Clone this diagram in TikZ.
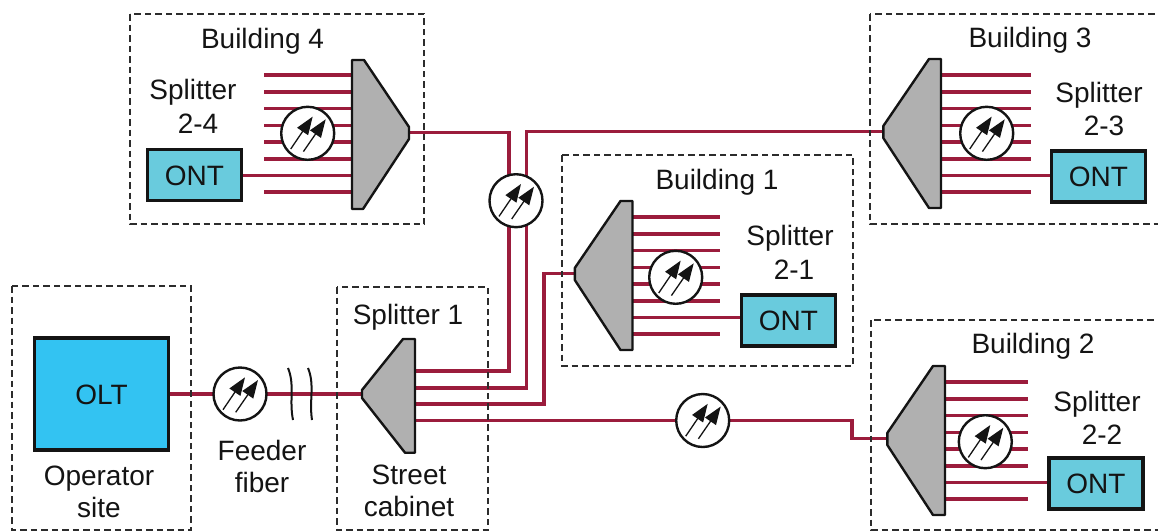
\documentclass[tikz,border=0pt]{standalone}
\usepackage{fontspec}
\setmainfont{Liberation Sans}
\usetikzlibrary{arrows.meta}
\pgfdeclarelayer{wires}
\pgfsetlayers{wires,main}
\definecolor{fiberred}{HTML}{9B1C3C}
\definecolor{ontblue}{HTML}{69CBDD}
\definecolor{oltblue}{HTML}{33C3F2}
\definecolor{splitgray}{HTML}{B0B0B0}
\definecolor{inkdark}{HTML}{141414}
\tikzset{
  x=1pt,y=-1pt,
  fiber/.style={draw=fiberred,line width=3.4pt},
  zone/.style={draw=inkdark!90,line width=2.2pt,dash pattern=on 6.5pt off 4pt},
  body/.style={draw=inkdark,line width=2.4pt,fill=splitgray,line join=round},
  label/.style={anchor=base,inner sep=0pt,text=inkdark,font=\fontsize{28}{28}\selectfont},
  devtext/.style={draw=inkdark,line width=3.6pt,inner sep=0pt,text=inkdark,
    text height=20pt,text depth=0pt,font=\fontsize{28}{28}\selectfont},
  ontbox/.style={devtext,fill=ontblue,minimum width=94pt,minimum height=51pt},
  oltbox/.style={devtext,fill=oltblue,minimum width=134pt,minimum height=112pt},
  tapmark/.style={circle,draw=inkdark,line width=2.4pt,fill=white,minimum size=53pt,inner sep=0pt,
    path picture={
      \draw[inkdark,line width=1.3pt,-{Triangle[length=18pt,width=13pt]}]
        ([shift={(-17,15.7)}]path picture bounding box.center) -- ([shift={(5,-16.7)}]path picture bounding box.center);
      \draw[inkdark,line width=1.3pt,-{Triangle[length=18pt,width=13pt]}]
        ([shift={(-4.3,18.3)}]path picture bounding box.center) -- ([shift={(18,-14)}]path picture bounding box.center);
    }},
  breakmark/.style={draw=inkdark,line width=2pt},
  pics/fanleft/.style={code={
    \begin{pgfonlayer}{wires}
      \foreach \yy in {16,33,49.5,66.5,83,100,116.5,133}{\draw[fiber] (0,\yy) -- (#1,\yy);}
    \end{pgfonlayer}
    \draw[body] (0,0) -- (-12,0) -- (-57.7,67) -- (-57.7,79) -- (-12,149) -- (0,149) -- cycle;
    \coordinate (-tip) at (-57.7,72.5);
    \coordinate (-port) at (0,116.5);
  }},
  pics/fanright/.style={code={
    \begin{pgfonlayer}{wires}
      \foreach \yy in {15,32,48.5,65.5,82,99,115.5,132}{\draw[fiber] (0,\yy) -- (-88,\yy);}
    \end{pgfonlayer}
    \draw[body] (0,0) -- (12,0) -- (57,67) -- (57,79) -- (11,149) -- (0,149) -- cycle;
    \coordinate (-tip) at (57,72.5);
    \coordinate (-port) at (0,115.5);
  }},
}
\begin{document}
\begin{tikzpicture}
\useasboundingbox (0,0) rectangle (1158,531);
% dashed enclosures
\draw[zone] (130,14) rectangle (424,224);
\draw[zone] (870,14) rectangle (1175,224);
\draw[zone] (562,155) rectangle (853,366);
\draw[zone] (871,320) rectangle (1175,530);
\draw[zone] (12,286) rectangle (191,530);
\draw[zone] (337,287) rectangle (488,530);

% splitters and their fans
\pic (b4) at (352,60) {fanright};
\pic (b3) at (941,59) {fanleft=90};
\pic (b1) at (632.5,201) {fanleft=87.5};
\pic (b2) at (945,366) {fanleft=83};
\draw[body] (415,339) -- (403,339) -- (362,390) -- (362,398) -- (405,452.7) -- (415,452.7) -- cycle;
\coordinate (s1-tip) at (362,394);
\coordinate (s1-o1) at (415,371);
\coordinate (s1-o2) at (415,388);
\coordinate (s1-o3) at (415,404);
\coordinate (s1-o4) at (415,420.5);

% devices
\node[oltbox] (olt) at (101.5,394) {OLT};
\node[ontbox] (ont4) at (194.5,175) {ONT};
\node[ontbox] (ont3) at (1098.5,176.5) {ONT};
\node[ontbox] (ont1) at (788.5,320.5) {ONT};
\node[ontbox] (ont2) at (1096,483.5) {ONT};

% taps
\node[tapmark] (tapf) at (240,394) {};
\node[tapmark] (tapm) at (516,200.7) {};
\node[tapmark] (tap4) at (307.7,133.3) {};
\node[tapmark] (tap3) at (986.7,133.3) {};
\node[tapmark] (tap1) at (675.7,277.3) {};
\node[tapmark] (tap2) at (985.3,441.7) {};
\node[tapmark] (tapb) at (702.7,420.5) {};

% junction bends
\coordinate (j1) at (509,300);
\coordinate (j2) at (526.7,300);
\coordinate (j3) at (544,340);
\coordinate (j4) at (852,420.5);

\begin{pgfonlayer}{wires}
\draw[fiber] (olt.east) -- (s1-tip);
\draw[fiber] (b4-tip) -| (j1) |- (s1-o1);
\draw[fiber] (b3-tip) -| (j2) |- (s1-o2);
\draw[fiber] (b1-tip) -| (j3) |- (s1-o3);
\draw[fiber] (s1-o4) -- (j4) |- (b2-tip);
\draw[fiber] (ont4.east |- b4-port) -- (b4-port);
\draw[fiber] (ont3.west |- b3-port) -- (b3-port);
\draw[fiber] (ont1.west |- b1-port) -- (b1-port);
\draw[fiber] (ont2.west |- b2-port) -- (b2-port);
\end{pgfonlayer}

% cable break
\draw[breakmark] (288,368) .. controls (295,385) and (289,400) .. (293,420);
\draw[breakmark] (308,368) .. controls (315,385) and (309,400) .. (312,420);

% labels
\node[label] (lb4) at (262.5,48) {Building 4};
\node[label] (ls4a) at (193,99) {Splitter};
\node[label] (ls4b) at (198,133) {2-4};
\node[label] (lb3) at (1030,47) {Building 3};
\node[label] (ls3a) at (1099,102) {Splitter};
\node[label] (ls3b) at (1104,135) {2-3};
\node[label] (lb1) at (717,189) {Building 1};
\node[label] (ls1a) at (790,245) {Splitter};
\node[label] (ls1b) at (794,279) {2-1};
\node[label] (lb2) at (1033,353) {Building 2};
\node[label] (ls2a) at (1097,411) {Splitter};
\node[label] (ls2b) at (1102,444) {2-2};
\node[label] (lop1) at (99,485) {Operator};
\node[label] (lop2) at (99,517) {site};
\node[label] (lfe1) at (262,460) {Feeder};
\node[label] (lfe2) at (262,492) {fiber};
\node[label] (lsp1) at (408,324) {Splitter 1};
\node[label] (lst1) at (409,484) {Street};
\node[label] (lst2) at (409,516) {cabinet};
\end{tikzpicture}
\end{document}
